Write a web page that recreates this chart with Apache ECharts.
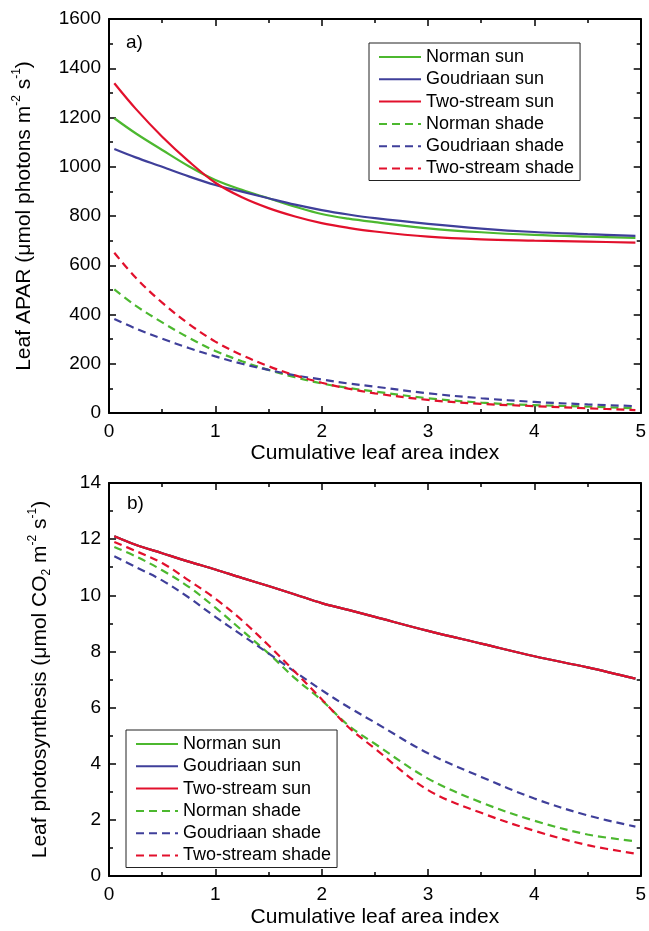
<!DOCTYPE html>
<html><head><meta charset="utf-8">
<script src="https://cdn.jsdelivr.net/npm/echarts@6/dist/echarts.min.js"></script>
<style>html,body{margin:0;padding:0;background:#fff}#c{width:649px;height:931px}</style>
</head><body><div id="c"></div>
<script>
// Cumulative leaf area index (x positions of sampled points)
const lai = [0.05, 0.25, 0.5, 0.75, 1, 1.25, 1.5, 1.75, 2, 2.25, 2.5, 3, 3.5, 4, 4.5, 4.95];

// a) Leaf APAR (umol photons m-2 s-1)
const aparNormanSun     = [1197, 1136, 1068, 1002, 946, 906, 872, 838, 808, 789, 775, 750, 734, 723, 716, 711];
const aparGoudriaanSun  = [1072, 1038, 1000, 961, 926, 899, 872, 846, 824, 806, 791, 768, 749, 735, 726, 719];
const aparTwoStreamSun  = [1339, 1236, 1122, 1022, 935, 876, 832, 798, 771, 752, 737, 716, 705, 700, 696, 692];
const aparNormanShade   = [502, 436, 368, 306, 252, 210, 175, 145, 120, 102, 87, 60, 42, 32, 26, 19];
const aparGoudriaanShade= [382, 343, 302, 264, 230, 200, 175, 153, 136, 120, 107, 80, 60, 45, 35, 28];
const aparTwoStreamShade= [651, 550, 448, 362, 290, 235, 190, 153, 123, 99, 80, 53, 37, 28, 19, 12];

// b) Leaf photosynthesis (umol CO2 m-2 s-1)
const psnNormanSun      = [12.1, 11.8, 11.5, 11.2, 10.92, 10.62, 10.33, 10.03, 9.72, 9.48, 9.23, 8.73, 8.28, 7.83, 7.43, 7.03];
const psnGoudriaanSun   = [12.1, 11.8, 11.5, 11.2, 10.92, 10.62, 10.33, 10.03, 9.72, 9.48, 9.23, 8.73, 8.28, 7.83, 7.43, 7.03];
const psnTwoStreamSun   = [12.1, 11.8, 11.5, 11.2, 10.92, 10.62, 10.33, 10.03, 9.72, 9.48, 9.23, 8.73, 8.28, 7.83, 7.43, 7.03];
const psnNormanShade    = [11.72, 11.39, 10.89, 10.30, 9.56, 8.75, 7.93, 7.04, 6.26, 5.37, 4.71, 3.47, 2.62, 1.97, 1.48, 1.24];
const psnGoudriaanShade = [11.39, 11.01, 10.53, 9.92, 9.23, 8.58, 7.93, 7.27, 6.62, 6.02, 5.47, 4.37, 3.53, 2.76, 2.16, 1.76];
const psnTwoStreamShade = [11.90, 11.58, 11.15, 10.53, 9.88, 9.11, 8.22, 7.27, 6.30, 5.31, 4.54, 3.06, 2.25, 1.61, 1.10, 0.80];

const seriesNames = ['Norman sun', 'Goudriaan sun', 'Two-stream sun', 'Norman shade', 'Goudriaan shade', 'Two-stream shade'];
const xTicks = [0, 1, 2, 3, 4, 5];

const FONT = '"Liberation Sans", Arial, Helvetica, sans-serif';
const GREEN = '#4cb82f', BLUE = '#3f3f9a', RED = '#e2102c';
const colors = [GREEN, BLUE, RED, GREEN, BLUE, RED];

function pairs(ys) { return lai.map((x, i) => [x, ys[i]]); }
const plain = v => String(v);

function xAxis(gridIndex, position, labels, name, gap) {
  return {
    type: 'value', gridIndex, position, min: xTicks[0], max: xTicks[xTicks.length - 1], interval: 1,
    axisLine: { show: true, onZero: false, lineStyle: { color: '#000', width: 2 } },
    axisTick: { show: true, inside: true, length: 7, lineStyle: { color: '#000', width: 1.5 } },
    minorTick: { show: true, splitNumber: 2, length: 4, lineStyle: { color: '#000', width: 1.5 } },
    splitLine: { show: false },
    axisLabel: { show: labels, color: '#000', fontSize: 19, fontFamily: FONT, margin: 9, formatter: plain },
    name: name || '', nameLocation: 'middle', nameGap: gap || 30,
    nameTextStyle: { color: '#000', fontSize: 21, fontFamily: FONT }
  };
}
function yAxis(gridIndex, position, labels, max, interval, name, gap) {
  return {
    type: 'value', gridIndex, position, min: 0, max, interval,
    axisLine: { show: true, onZero: false, lineStyle: { color: '#000', width: 2 } },
    axisTick: { show: true, inside: true, length: 7, lineStyle: { color: '#000', width: 1.5 } },
    minorTick: { show: true, splitNumber: 2, length: 4, lineStyle: { color: '#000', width: 1.5 } },
    splitLine: { show: false },
    axisLabel: { show: labels, color: '#000', fontSize: 19, fontFamily: FONT, margin: 8, formatter: plain },
    name: name || '', nameLocation: 'middle', nameGap: gap || 30, nameRotate: 90,
    nameTextStyle: {
      color: '#000', fontSize: 21, fontFamily: FONT,
      rich: {
        n: { fontSize: 21, fontFamily: FONT, color: '#000', lineHeight: 26 },
        s: { fontSize: 12, fontFamily: FONT, color: '#000', lineHeight: 13, verticalAlign: 'top' },
        b: { fontSize: 12, fontFamily: FONT, color: '#000', lineHeight: 13, verticalAlign: 'bottom' }
      }
    }
  };
}

function makeSeries(dataArrays, xi, yi) {
  return dataArrays.map((arr, i) => ({
    type: 'line', name: seriesNames[i], xAxisIndex: xi, yAxisIndex: yi,
    data: pairs(arr), showSymbol: false, symbol: 'none', smooth: 0.35,
    lineStyle: { color: colors[i], width: 2.2, type: i < 3 ? 'solid' : [8, 5] },
    itemStyle: { color: colors[i] }, silent: true, animation: false, z: 2
  }));
}

function legend(left, top) {
  return {
    orient: 'vertical', left, top, data: seriesNames,
    itemWidth: 42, itemHeight: 14, itemGap: 4.3, padding: [5, 6, 3, 9],
    borderColor: '#222', borderWidth: 1, backgroundColor: '#fff',
    itemStyle: { opacity: 0 },
    textStyle: { color: '#000', fontSize: 18, fontFamily: FONT, lineHeight: 18 },
    selectedMode: false
  };
}

const chart = echarts.init(document.getElementById('c'), null, { renderer: 'canvas' });
chart.setOption({
  animation: false,
  backgroundColor: '#fff',
  title: [
    { text: 'a)', left: 126, top: 33, padding: 0, textStyle: { fontSize: 19, fontWeight: 'normal', fontFamily: FONT, color: '#000' } },
    { text: 'b)', left: 127, top: 494, padding: 0, textStyle: { fontSize: 19, fontWeight: 'normal', fontFamily: FONT, color: '#000' } }
  ],
  grid: [
    { left: 109, right: 5, top: 19, height: 394 },
    { left: 109, right: 5, top: 483, height: 393 }
  ],
  xAxis: [
    xAxis(0, 'bottom', true, 'Cumulative leaf area index', 30),
    xAxis(0, 'top', false),
    xAxis(1, 'bottom', true, 'Cumulative leaf area index', 31),
    xAxis(1, 'top', false)
  ],
  yAxis: [
    yAxis(0, 'left', true, 1600, 200, '{n|Leaf APAR (μmol photons m}{s|-2}{n| s}{s|-1}{n|)}', 72),
    yAxis(0, 'right', false, 1600, 200),
    yAxis(1, 'left', true, 14, 2, '{n|Leaf photosynthesis (μmol CO}{b|2}{n| m}{s|-2}{n| s}{s|-1}{n|)}', 56),
    yAxis(1, 'right', false, 14, 2)
  ],
  legend: [legend(369, 43), legend(126, 730)],
  series: [
    ...makeSeries([aparNormanSun, aparGoudriaanSun, aparTwoStreamSun, aparNormanShade, aparGoudriaanShade, aparTwoStreamShade], 0, 0),
    ...makeSeries([psnNormanSun, psnGoudriaanSun, psnTwoStreamSun, psnNormanShade, psnGoudriaanShade, psnTwoStreamShade], 2, 2)
  ]
});
</script></body></html>
